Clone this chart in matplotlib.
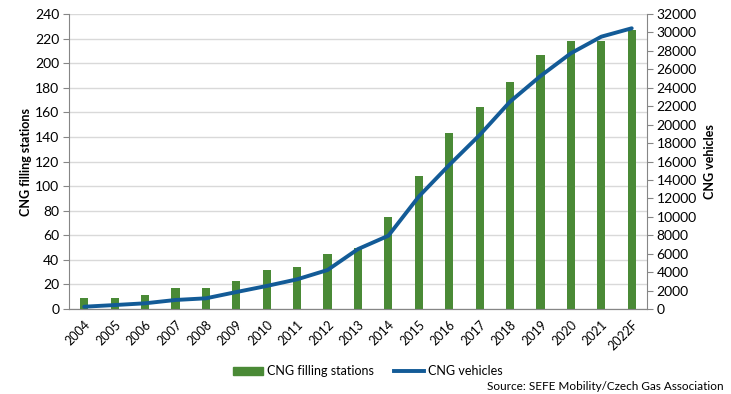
import numpy as np
from matplotlib import pyplot as plt
from matplotlib.lines import Line2D
from matplotlib.patches import Patch

plt.rcParams['font.family'] = ['Lato', 'DejaVu Sans']

years = ['2004', '2005', '2006', '2007', '2008', '2009', '2010', '2011', '2012', '2013',
         '2014', '2015', '2016', '2017', '2018', '2019', '2020', '2021', '2022F']
stations = [9, 9, 11, 17, 17, 23, 32, 34, 45, 50, 75, 108, 143, 164, 185, 207, 218, 218, 227]
vehicles = [250, 430, 620, 980, 1160, 1840, 2500, 3220, 4230, 6500, 7950, 12200, 15620,
            18870, 22490, 25270, 27740, 29540, 30450]

BAR_COL = '#4a8a36'
LINE_COL = '#135b97'
GRID_COL = '#d9d9d9'
SPINE_COL = '#868686'

fig = plt.figure(figsize=(7.31, 3.94), dpi=100)
ax = fig.add_axes([0.0944, 0.2157, 0.7906, 0.7488])
ax2 = ax.twinx()

x = np.arange(len(years))
ax.bar(x, stations, width=0.27, color=BAR_COL, zorder=3)
ax2.plot(x, vehicles, color=LINE_COL, lw=2.8, zorder=4, solid_capstyle='round')

ax.set_xlim(-0.5, len(years) - 0.5)
ax.set_ylim(0, 240)
ax.set_yticks(range(0, 241, 20))
ax2.set_ylim(0, 32000)
ax2.set_yticks(range(0, 32001, 2000))

ax.grid(axis='y', color=GRID_COL, lw=1, zorder=0)
ax.set_axisbelow(True)
ax.set_xticks(x)
ax.set_xticklabels(years, rotation=45, ha='right', rotation_mode='anchor')
ax.tick_params(axis='x', length=0, pad=7, labelsize=9)
ax.tick_params(axis='y', length=4, color=SPINE_COL, labelsize=10, pad=3)
ax2.tick_params(axis='y', length=4, color=SPINE_COL, labelsize=10, pad=3)

for a in (ax, ax2):
    a.spines['top'].set_visible(False)
    for s in ('left', 'right', 'bottom'):
        a.spines[s].set_color(SPINE_COL)
ax.spines['right'].set_visible(False)
ax2.spines['left'].set_visible(False)

ax.set_ylabel('CNG filling stations', fontweight='bold', fontsize=9, labelpad=2)
ax2.set_ylabel('CNG vehicles', fontweight='bold', fontsize=9, rotation=90, labelpad=5)

handles = [Patch(color=BAR_COL, label='CNG filling stations'),
           Line2D([0], [0], color=LINE_COL, lw=2.8, label='CNG vehicles')]
fig.legend(handles=handles, loc='center', bbox_to_anchor=(0.503, 0.058), ncol=2,
           frameon=False, fontsize=9, handlelength=2.4, handleheight=0.6,
           handletextpad=0.3, columnspacing=1.6, borderpad=0)

fig.text(0.99, 0.005, 'Source: SEFE Mobility/Czech Gas Association', ha='right', va='bottom', fontsize=8.5)

fig.savefig('out.png', dpi=100)
